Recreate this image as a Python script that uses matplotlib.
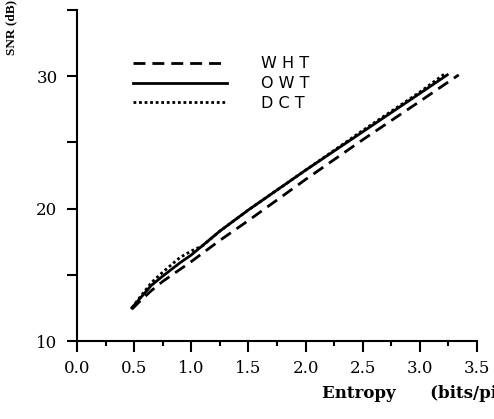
import matplotlib
matplotlib.use("Agg")
import matplotlib.pyplot as plt
from matplotlib.ticker import MultipleLocator

# values
wht_x = [0.48, 0.55, 0.65, 0.75, 0.90, 1.00, 1.25, 1.50, 2.00, 2.50, 3.00, 3.34]
wht_y = [12.4, 13.0, 13.8, 14.5, 15.4, 16.0, 17.6, 19.1, 22.2, 25.2, 28.1, 30.1]

owt_x = [0.48, 0.55, 0.65, 0.75, 0.90, 1.00, 1.25, 1.50, 2.00, 2.50, 3.00, 3.24]
owt_y = [12.5, 13.2, 14.2, 14.9, 15.9, 16.5, 18.3, 19.9, 22.9, 25.8, 28.7, 30.1]

dct_x = [0.48, 0.55, 0.65, 0.75, 0.90, 1.00, 1.10, 1.25, 1.50, 2.00, 2.50, 3.00, 3.22]
dct_y = [12.5, 13.3, 14.4, 15.2, 16.3, 16.8, 17.2, 18.3, 19.9, 22.9, 25.9, 28.8, 30.2]

labels = ["W H T", "O W T", "D C T"]
x_ticks = [0.0, 0.5, 1.0, 1.5, 2.0, 2.5, 3.0, 3.5]
y_ticks = [10, 20, 30]

fig = plt.figure(figsize=(4.94, 4.19), dpi=100)
ax = fig.add_axes([77 / 494, 1 - 341 / 419, 400 / 494, 331 / 419])

ax.plot(wht_x, wht_y, color="black", lw=2, linestyle=(0, (4.3, 2.5)), label=labels[0])
ax.plot(owt_x, owt_y, color="black", lw=2, linestyle="-", label=labels[1])
ax.plot(dct_x, dct_y, color="black", lw=2, linestyle=(0, (1, 1)), label=labels[2])

ax.set_xlim(0, 3.5)
ax.set_ylim(10, 35)
ax.set_xticks(x_ticks)
ax.set_xticklabels([f"{v:.1f}" for v in x_ticks])
ax.set_yticks(y_ticks)
ax.xaxis.set_minor_locator(MultipleLocator(0.25))
ax.yaxis.set_minor_locator(MultipleLocator(5))

for s in ["top", "right"]:
    ax.spines[s].set_visible(False)
for s in ["left", "bottom"]:
    ax.spines[s].set_linewidth(1.5)

ax.tick_params(axis="x", which="major", direction="out", length=8, width=1.5, pad=6)
ax.tick_params(axis="x", which="minor", direction="out", length=3.6, width=1.5)
ax.tick_params(axis="y", which="both", direction="out", length=7, width=1.5, pad=7)
for t in ax.get_xticklabels() + ax.get_yticklabels():
    t.set_fontfamily("DejaVu Serif")
    t.set_fontsize(12)

leg = ax.legend(loc="upper left", bbox_to_anchor=(0.14, 0.86), frameon=False,
                handlelength=5.9, handletextpad=2.1, labelspacing=0.3,
                borderpad=0, borderaxespad=0,
                prop={"family": "DejaVu Sans", "size": 11.5})

# the original scan cuts this label off at the right edge
fig.text(322 / 494, 1 - 398 / 419, "Entropy      (bits/pixel)", fontfamily="DejaVu Serif",
         fontweight="bold", fontsize=12, ha="left", va="baseline")
fig.text(11 / 494, 1 - 27 / 419, "SNR (dB)", fontfamily="Liberation Serif",
         fontweight="bold", fontsize=9.5, rotation=90, ha="center", va="center")

fig.savefig("out.png", dpi=100)
